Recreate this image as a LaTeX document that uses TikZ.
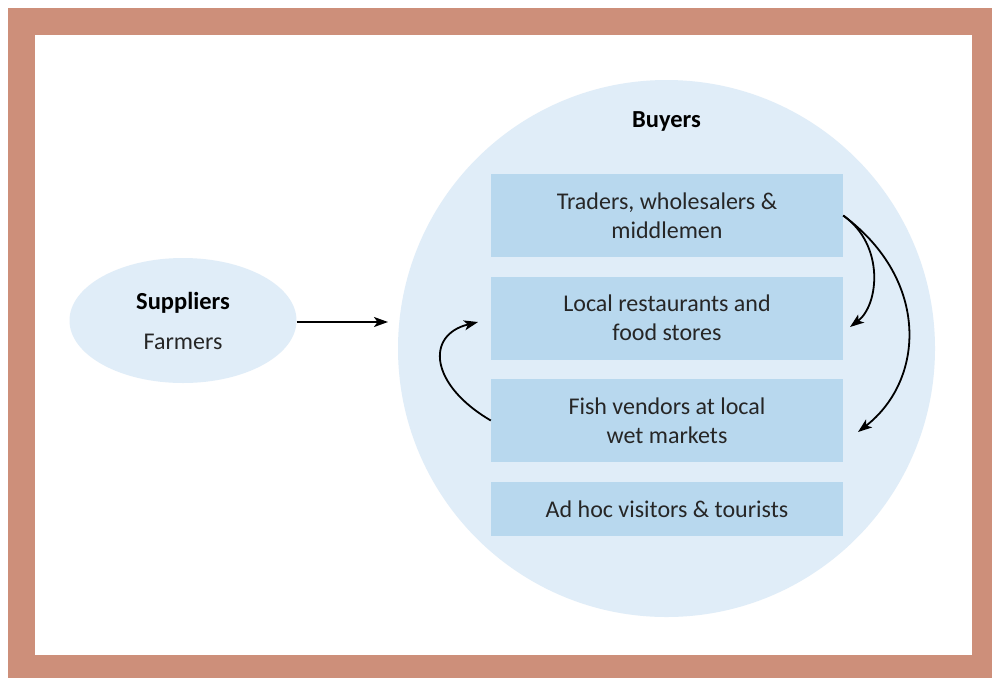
\documentclass[tikz,border=0pt]{standalone}
\usepackage{fontspec}
\setmainfont{Carlito}
\usetikzlibrary{arrows.meta,shapes.geometric}
\definecolor{frame}{HTML}{CD8F7A}
\definecolor{pale}{HTML}{E0EDF8}
\definecolor{boxblue}{HTML}{B8D8EE}
\definecolor{ink}{HTML}{262626}
\tikzset{
  buyerbox/.style={fill=boxblue, minimum width=352pt, minimum height=83pt, inner sep=0pt, align=center, text=ink, font=\fontsize{24}{29}\selectfont},
  flow/.style={line width=1.8pt, -{Stealth[length=14pt,width=10pt,inset=3.5pt]}},
}
\begin{document}
\begin{tikzpicture}[x=1pt,y=-1pt]
\useasboundingbox (0,0) rectangle (992,678);
\fill[frame] (8,8) rectangle (992,678);
\fill[white] (35,35) rectangle (972,655);
\fill[pale] (666.5,348.5) circle (268.5);
\node[ellipse, fill=pale, minimum width=227pt, minimum height=125pt, inner sep=0pt] (supp) at (183,320.5) {};
\node[font=\fontsize{24.5}{29}\selectfont\bfseries, text=black] (supplabel) at (183,303) {Suppliers};
\node[font=\fontsize{24}{29}\selectfont, text=ink] (farm) at (183,342) {Farmers};
\node[font=\fontsize{24.5}{29}\selectfont\bfseries, text=black] (buyers) at (666.5,121) {Buyers};
\node[buyerbox] (b1) at (667,215.5) {Traders, wholesalers \&\\middlemen};
\node[buyerbox] (b2) at (667,318) {Local restaurants and\\food stores};
\node[buyerbox] (b3) at (667,420.5) {Fish vendors at local\\wet markets};
\node[buyerbox, minimum height=54pt] (b4) at (667,509) {Ad hoc visitors \& tourists};
\coordinate (buyin) at (388,322);
\coordinate (b2in) at (478,322);
\coordinate (b2r) at (850,327);
\coordinate (b3r) at (858,432);
\draw[flow] (supp.east |- buyin) -- (buyin);
\draw[flow] (b3.west) .. controls (430,385) and (425,335) .. (b2in);
\draw[flow] (b1.east) .. controls (885,245) and (879,305) .. (b2r);
\draw[flow] (b1.east) .. controls (930,280) and (925,380) .. (b3r);
\end{tikzpicture}
\end{document}
